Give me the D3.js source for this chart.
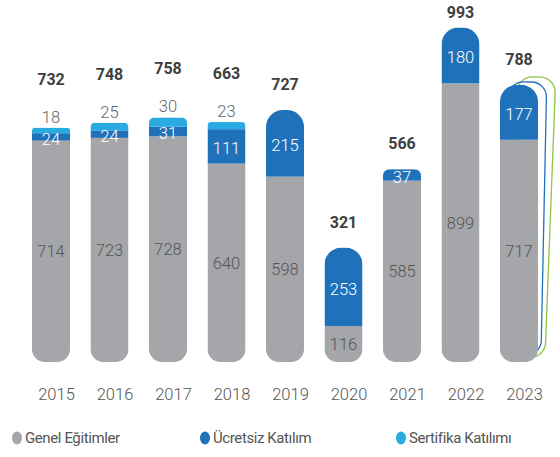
<!DOCTYPE html>
<html>
<head>
<meta charset="utf-8">
<script src="https://cdn.jsdelivr.net/npm/d3@7"></script>
<style>
  html, body { margin: 0; padding: 0; background: #fff; }
  svg { display: block; font-family: Roboto, "Noto Sans", sans-serif; }
</style>
</head>
<body>
<svg id="chart" width="560" height="457"></svg>
<script>
// Participation by year, stacked: general trainings, free participation, certificate participation
const years = ["2015", "2016", "2017", "2018", "2019", "2020", "2021", "2022", "2023"];
const genel = [714, 723, 728, 640, 598, 116, 585, 899, 717];
const ucretsiz = [24, 24, 31, 111, 215, 253, 37, 180, 177];
const sertifika = [18, 25, 30, 23, 0, 0, 0, 0, 0];
const totals = [732, 748, 758, 663, 727, 321, 566, 993, 788];

const seriesNames = ["Genel Eğitimler", "Ücretsiz Katılım", "Sertifika Katılımı"];
const colors = ["#A5A6AA", "#1F72BA", "#29AAE1"];

const svg = d3.select("#chart");
const barW = 38;

const x = d3.scalePoint().domain(years).range([51, 519]);
const y = d3.scaleLinear().domain([0, 1000]).range([362, 52]);

const rows = years.map((yr, i) => ({
  year: yr, i,
  vals: [genel[i], ucretsiz[i], sertifika[i]],
  total: totals[i]
}));

const stack = d3.stack().keys([0, 1, 2]).value((d, k) => d.vals[k]);
const stacked = stack(rows);

// rounded outline of a bar: top radius rt, bottom radius rb
function barPath(x0, y0, w, h, rt, rb) {
  const p = d3.path();
  p.moveTo(x0, y0 + rt);
  p.arcTo(x0, y0, x0 + rt, y0, rt);
  p.lineTo(x0 + w - rt, y0);
  p.arcTo(x0 + w, y0, x0 + w, y0 + rt, rt);
  p.lineTo(x0 + w, y0 + h - rb);
  p.arcTo(x0 + w, y0 + h, x0 + w - rb, y0 + h, rb);
  p.lineTo(x0 + rb, y0 + h);
  p.arcTo(x0, y0 + h, x0, y0 + h - rb, rb);
  p.closePath();
  return p.toString();
}

const defs = svg.append("defs");

// decorative outlines behind the latest year
const last = rows[rows.length - 1];
const lastTop = y(d3.sum(last.vals));
const lx = x(last.year) - barW / 2;
svg.append("rect")
  .attr("x", lx + 7).attr("y", lastTop - 8)
  .attr("width", barW).attr("height", y(0) - 5 - (lastTop - 8))
  .attr("rx", 15).attr("fill", "none")
  .attr("stroke", "#8CC63F").attr("stroke-width", 1.3)
  .attr("transform", `rotate(2.2, ${lx + 7 + barW / 2}, ${y(0) - 5})`);
svg.append("rect")
  .attr("x", lx + 3).attr("y", lastTop - 3)
  .attr("width", barW).attr("height", y(0) - 7 - (lastTop - 3))
  .attr("rx", 15).attr("fill", "none")
  .attr("stroke", "#1F72BA").attr("stroke-width", 1.3)
  .attr("transform", `rotate(1.2, ${lx + 3 + barW / 2}, ${y(0) - 7})`);

// bars
rows.forEach(r => {
  const x0 = x(r.year) - barW / 2;
  const top = y(d3.sum(r.vals));
  const topIdx = r.vals[2] > 0 ? 2 : 1;
  const topSegH = y(0) - y(r.vals[topIdx]);
  const rt = Math.min(17, topSegH * 0.55);
  const id = "clip" + r.year;
  defs.append("clipPath").attr("id", id)
    .append("path").attr("d", barPath(x0, top, barW, y(0) - top, rt, 13));
  const g = svg.append("g").attr("clip-path", `url(#${id})`);
  stacked.forEach((s, k) => {
    const d = s[r.i];
    if (d[1] - d[0] <= 0) return;
    g.append("rect")
      .attr("x", x0).attr("width", barW)
      .attr("y", y(d[1])).attr("height", y(d[0]) - y(d[1]))
      .attr("fill", colors[k]);
  });
});

// value labels inside segments
rows.forEach(r => {
  const cx = x(r.year);
  const s0 = stacked[0][r.i], s1 = stacked[1][r.i];
  svg.append("text")
    .attr("x", cx).attr("y", (y(s0[0]) + y(s0[1])) / 2)
    .attr("dy", "0.36em").attr("text-anchor", "middle")
    .attr("font-size", 16.5).attr("font-weight", 300)
    .attr("fill", "#555").text(r.vals[0]);
  svg.append("text")
    .attr("x", cx).attr("y", (y(s1[0]) + y(s1[1])) / 2 + 2)
    .attr("dy", "0.36em").attr("text-anchor", "middle")
    .attr("font-size", 16.5).attr("font-weight", 300)
    .attr("fill", "#fff").text(r.vals[1]);

  // certificate values sit above the bar, totals above everything
  const top = y(d3.sum(r.vals));
  let total = Math.max(top - 20, 18);
  if (r.vals[2] > 0) {
    const base = top - 5;
    svg.append("text")
      .attr("x", cx).attr("y", base)
      .attr("text-anchor", "middle")
      .attr("font-size", 16.5).attr("font-weight", 300)
      .attr("fill", "#666").text(r.vals[2]);
    total = base - 12 - 26;
  }
  svg.append("text")
    .attr("x", cx).attr("y", total)
    .attr("text-anchor", "middle")
    .attr("font-size", 16).attr("font-weight", 700)
    .attr("fill", "#404040").text(r.total);
});

// year axis
const axis = svg.append("g")
  .attr("transform", `translate(5, ${y(0)})`)
  .call(d3.axisBottom(x).tickSize(0).tickPadding(26));
axis.select(".domain").remove();
axis.selectAll("text")
  .attr("font-size", 16.5).attr("font-family", "Roboto, sans-serif")
  .attr("font-weight", 300).attr("fill", "#555");

// legend
const legendX = [17, 205, 401];
const lg = svg.append("g").attr("transform", "translate(0, 438)");
seriesNames.forEach((name, k) => {
  lg.append("ellipse").attr("cx", legendX[k]).attr("cy", 0)
    .attr("rx", 5).attr("ry", 6.5).attr("fill", colors[k]);
  lg.append("text").attr("x", legendX[k] + 8).attr("y", 0)
    .attr("dy", "0.35em").attr("font-size", 15)
    .attr("letter-spacing", -0.4).attr("fill", "#555").text(name);
});
</script>
</body>
</html>
